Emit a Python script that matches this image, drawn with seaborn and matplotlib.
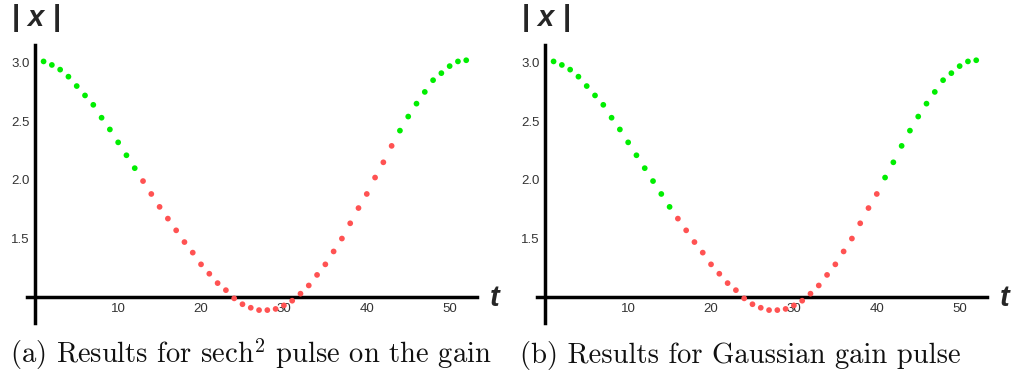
import matplotlib
matplotlib.use("Agg")
import matplotlib.pyplot as plt
from matplotlib.ticker import FixedLocator, MultipleLocator
import pandas as pd
import seaborn as sns

# ---- data ----
t_values = [1, 2, 3, 4, 5, 6, 7, 8, 9, 10, 11, 12, 13, 14, 15, 16, 17, 18, 19, 20,
            21, 22, 23, 24, 25, 26, 27, 28, 29, 30, 31, 32, 33, 34, 35, 36, 37, 38, 39, 40,
            41, 42, 43, 44, 45, 46, 47, 48, 49, 50, 51, 52]
x_abs = [3.01, 2.98, 2.94, 2.88, 2.80, 2.72, 2.64, 2.53, 2.43, 2.32, 2.21, 2.10, 1.99, 1.88,
         1.77, 1.67, 1.57, 1.47, 1.38, 1.28, 1.20, 1.12, 1.06, 0.99, 0.94, 0.91, 0.89, 0.89,
         0.90, 0.93, 0.97, 1.03, 1.10, 1.19, 1.28, 1.39, 1.50, 1.63, 1.76, 1.88, 2.02, 2.15,
         2.29, 2.42, 2.54, 2.65, 2.75, 2.85, 2.91, 2.97, 3.01, 3.02]
# unstable (red) interval of t for each panel
red_interval_a = (13, 43)
red_interval_b = (16, 40)
x_tick_labels = [10, 20, 30, 40, 50]
y_tick_labels = [1.5, 2.0, 2.5, 3.0]
captions = ["(a) Results for $\\mathrm{sech}^2$ pulse on the gain",
            "(b) Results for Gaussian gain pulse"]

palette = {"stable": "#00ee00", "unstable": "#ff5252"}

def make_df(interval):
    lo, hi = interval
    states = ["unstable" if lo <= t <= hi else "stable" for t in t_values]
    return pd.DataFrame({"t": t_values, "x": x_abs, "state": states})

sns.set_style("white")
plt.rcParams["mathtext.fontset"] = "cm"
plt.rcParams["font.family"] = ["Liberation Sans", "DejaVu Sans"]

W, H = 1017, 377
fig = plt.figure(figsize=(W / 100, H / 100), dpi=100)

for i, (interval, cap) in enumerate(zip([red_interval_a, red_interval_b], captions)):
    off = 510 * i
    ax = fig.add_axes([(27 + off) / W, (H - 323) / H, 450 / W, 278 / H])
    df = make_df(interval)
    sns.scatterplot(data=df, x="t", y="x", hue="state", palette=palette, s=17,
                    edgecolor="none", linewidth=0, legend=False, ax=ax, zorder=4,
                    clip_on=False)
    ax.set_xlim(-1, 53.3)
    ax.set_ylim(0.78, 3.15)
    ax.set_xlabel("")
    ax.set_ylabel("")
    for s in ("top", "right"):
        ax.spines[s].set_visible(False)
    ax.spines["left"].set_position(("data", 0))
    ax.spines["bottom"].set_position(("data", 1.0))
    for s in ("left", "bottom"):
        ax.spines[s].set_linewidth(2.5)
        ax.spines[s].set_color("black")
        ax.spines[s].set_zorder(3)
    ax.xaxis.set_major_locator(FixedLocator(x_tick_labels))
    ax.xaxis.set_minor_locator(MultipleLocator(2))
    ax.yaxis.set_major_locator(FixedLocator(y_tick_labels))
    ax.yaxis.set_minor_locator(MultipleLocator(0.1))
    ax.set_xticklabels([str(v) for v in x_tick_labels])
    ax.set_yticklabels([f"{v:.1f}" for v in y_tick_labels])
    ax.tick_params(axis="both", which="major", direction="in", length=4, width=1,
                   color="#555555", labelsize=9.5, labelcolor="#333333", pad=4)
    ax.tick_params(axis="both", which="minor", direction="in", length=2.5, width=0.9,
                   color="#555555")
    ax.patch.set_alpha(0)

    # axis labels
    fig.text((12 + off) / W, 1 - 4 / H, "|", fontsize=21, fontweight="bold",
             va="top", ha="left")
    fig.text((27 + off) / W, 1 - 4 / H, "x", fontsize=21, fontweight="bold",
             fontstyle="italic", va="top", ha="left")
    fig.text((53 + off) / W, 1 - 4 / H, "|", fontsize=21, fontweight="bold",
             va="top", ha="left")
    fig.text((490 + off) / W, 1 - 298 / H, "t", fontsize=21, fontweight="bold",
             fontstyle="italic", va="center", ha="left")

    # caption
    fig.text((10 + off) / W, 1 - 363 / H, cap, fontsize=20.6, family="cmr10",
             va="baseline", ha="left", color="#111111")

fig.savefig("out.png", dpi=100)
